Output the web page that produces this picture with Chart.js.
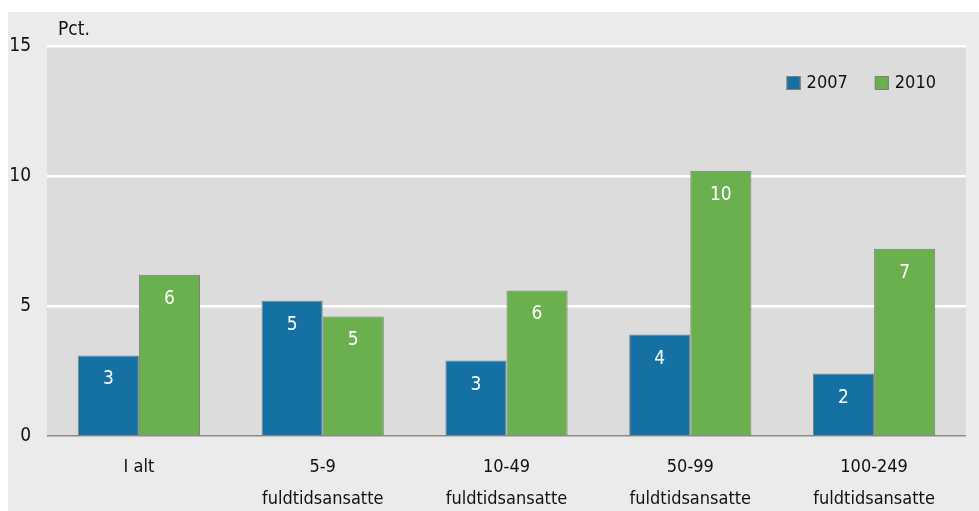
<!DOCTYPE html>
<html>
<head>
<meta charset="utf-8">
<script src="https://cdn.jsdelivr.net/npm/chart.js@4/dist/chart.umd.min.js"></script>
<style>
html,body{margin:0;padding:0;background:#fff;}
#wrap{width:979px;height:511px;position:relative;}
</style>
</head>
<body>
<div id="wrap"><canvas id="c" width="979" height="511"></canvas></div>
<script>
const categories = [["I alt"], ["5-9", "fuldtidsansatte"], ["10-49", "fuldtidsansatte"], ["50-99", "fuldtidsansatte"], ["100-249", "fuldtidsansatte"]];
const seriesNames = ["2007", "2010"];
const values2007 = [3.1, 5.2, 2.9, 3.9, 2.4];
const values2010 = [6.2, 4.6, 5.6, 10.2, 7.2];
const yTicks = [0, 5, 10, 15];
const unitLabel = "Pct.";

const FONT = "'Liberation Sans Narrow', 'DejaVu Sans Condensed', 'Liberation Sans', sans-serif";
const BLUE = "#1571a4";
const GREEN = "#6ab04f";
const EDGE = "#7f7f7f";

const bgPlugin = {
  id: 'bg',
  beforeDraw(chart) {
    const ctx = chart.ctx, a = chart.chartArea;
    ctx.save();
    ctx.fillStyle = '#ffffff';
    ctx.fillRect(0, 0, chart.width, chart.height);
    ctx.fillStyle = '#ebebeb';
    ctx.fillRect(8, 12, chart.width - 8, chart.height - 12);
    ctx.fillStyle = '#dcdcdc';
    ctx.fillRect(a.left, a.top, a.right - a.left, a.bottom - a.top);
    ctx.fillStyle = '#111';
    ctx.font = "19px " + FONT;
    ctx.textBaseline = 'middle';
    ctx.textAlign = 'left';
    ctx.fillText(unitLabel, 58, 30);
    ctx.restore();
  }
};

const labelPlugin = {
  id: 'vals',
  afterDatasetsDraw(chart) {
    const ctx = chart.ctx;
    ctx.save();
    ctx.fillStyle = '#ffffff';
    ctx.font = "19px " + FONT;
    ctx.textAlign = 'center';
    ctx.textBaseline = 'middle';
    chart.data.datasets.forEach((ds, i) => {
      chart.getDatasetMeta(i).data.forEach((el, j) => {
        ctx.fillText(String(Math.round(ds.data[j])), el.x, el.y + 24);
      });
    });
    ctx.restore();
  }
};

const legendPlugin = {
  id: 'customLegend',
  afterDraw(chart) {
    const ctx = chart.ctx, a = chart.chartArea;
    ctx.save();
    ctx.font = "18px " + FONT;
    ctx.textBaseline = 'middle';
    ctx.textAlign = 'left';
    const box = 14, gapText = 6, gapItem = 27;
    const ds = chart.data.datasets;
    let total = 0;
    ds.forEach((d, i) => { total += box + gapText + ctx.measureText(d.label).width + (i < ds.length - 1 ? gapItem : 0); });
    let x = a.right - 30 - total;
    const yMid = a.top + 37;
    ds.forEach((d) => {
      ctx.fillStyle = d.backgroundColor;
      ctx.fillRect(x, yMid - box / 2, box, box);
      ctx.strokeStyle = EDGE;
      ctx.lineWidth = 1;
      ctx.strokeRect(x + 0.5, yMid - box / 2 + 0.5, box - 1, box - 1);
      x += box + gapText;
      ctx.fillStyle = '#111';
      ctx.fillText(d.label, x, yMid);
      x += ctx.measureText(d.label).width + gapItem;
    });
    ctx.restore();
  }
};

new Chart(document.getElementById('c'), {
  type: 'bar',
  data: {
    labels: categories,
    datasets: [
      { label: seriesNames[0], data: values2007, backgroundColor: BLUE, borderColor: EDGE, borderWidth: 1 },
      { label: seriesNames[1], data: values2010, backgroundColor: GREEN, borderColor: EDGE, borderWidth: 1 }
    ]
  },
  options: {
    responsive: false,
    animation: false,
    devicePixelRatio: 1,
    layout: { padding: { top: 46, right: 13, left: 0, bottom: 0 } },
    plugins: { legend: { display: false }, tooltip: { enabled: false } },
    datasets: { bar: { categoryPercentage: 0.665, barPercentage: 1.0 } },
    scales: {
      x: {
        grid: { display: false },
        border: { display: false },
        afterFit(scale) { scale.height = 75; },
        ticks: {
          color: '#111',
          font: { family: FONT, size: 18, lineHeight: 1.78 },
          padding: 7,
          maxRotation: 0,
          autoSkip: false
        }
      },
      y: {
        min: 0, max: 15,
        afterBuildTicks(scale) { scale.ticks = yTicks.map(v => ({ value: v })); },
        afterFit(scale) { scale.width = 47; },
        border: { display: false },
        grid: {
          drawTicks: false,
          color: (c) => c.tick && c.tick.value === 0 ? '#8a8a8a' : '#ffffff',
          lineWidth: (c) => c.tick && c.tick.value === 0 ? 1.5 : 2.5
        },
        ticks: {
          color: '#111',
          font: { family: FONT, size: 19 },
          padding: 16
        }
      }
    }
  },
  plugins: [bgPlugin, labelPlugin, legendPlugin]
});
</script>
</body>
</html>
